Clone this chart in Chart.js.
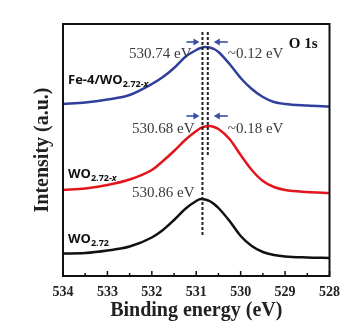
<!DOCTYPE html>
<html>
<head>
<meta charset="utf-8">
<script src="https://cdn.jsdelivr.net/npm/chart.js@4"></script>
<style>
    html, body { margin: 0; padding: 0; background: #fff; }
    canvas { display: block; }
</style>
</head>
<body>
<canvas id="xps-chart" width="348" height="329"></canvas>
<script>
const energies = [534, 533.5, 533, 532.5, 532, 531.75, 531.5, 531.25, 531, 530.9, 530.8, 530.7, 530.6, 530.5, 530.25, 530, 529.75, 529.5, 529.25, 529, 528.5, 528];

// Stacked O 1s spectra (arbitrary units, offset as in the figure)
const fe4Wo272x = [172, 173.5, 176.5, 181, 192, 199, 208, 219, 226, 228, 229, 228.5, 227, 224, 212, 198, 187, 179, 174, 172, 170.5, 169.5];
const wo272x = [86, 87.5, 91, 96.5, 106, 115, 125, 136, 145, 148, 149.5, 150, 149, 147, 137, 121, 106, 95, 89, 86, 84, 83];
const wo272 = [22.5, 23, 25.5, 29.5, 38.5, 46, 56, 67, 75, 77, 76.5, 75, 72, 68, 55, 40, 30, 24, 21, 19.5, 18.5, 18];

const xTicks = [534, 533, 532, 531, 530, 529, 528];
const minorTicks = [533.5, 532.5, 531.5, 530.5, 529.5, 528.5];

// Peak positions marked by the dashed lines
const peakWO272 = 530.86;
const peakShifted = 530.74;

const serif = '"Liberation Serif", "Times New Roman", serif';
const sans = '"Open Sans", "Liberation Sans", Arial, sans-serif';

function toPoints(values) {
    return energies.map((e, i) => ({ x: e, y: values[i] }));
}

function drawArrow(ctx, fromX, toX, y, color) {
    const dir = Math.sign(toX - fromX);
    ctx.save();
    ctx.strokeStyle = color;
    ctx.fillStyle = color;
    ctx.lineWidth = 1.6;
    ctx.beginPath();
    ctx.moveTo(fromX, y);
    ctx.lineTo(toX - dir * 4, y);
    ctx.stroke();
    ctx.beginPath();
    ctx.moveTo(toX, y);
    ctx.lineTo(toX - dir * 6, y - 3.5);
    ctx.lineTo(toX - dir * 6, y + 3.5);
    ctx.closePath();
    ctx.fill();
    ctx.restore();
}

// label like WO2.72-x with a subscript
function drawFormula(ctx, x, y, main, sub, italicTail) {
    ctx.save();
    ctx.fillStyle = '#111';
    ctx.textBaseline = 'alphabetic';
    ctx.textAlign = 'left';
    ctx.font = 'bold 13px ' + sans;
    ctx.fillText(main, x, y);
    let cx = x + ctx.measureText(main).width;
    ctx.font = 'bold 9px ' + sans;
    ctx.fillText(sub, cx, y + 3);
    cx += ctx.measureText(sub).width;
    if (italicTail) {
        ctx.font = 'italic bold 9px ' + sans;
        ctx.fillText(italicTail, cx, y + 3);
    }
    ctx.restore();
}

const decorations = {
    id: 'decorations',
    afterDatasetsDraw(chart) {
        const { ctx, chartArea: a, scales: { x, y } } = chart;

        // frame
        ctx.save();
        ctx.strokeStyle = '#111';
        ctx.lineWidth = 2;
        ctx.strokeRect(a.left, a.top, a.right - a.left, a.bottom - a.top);

        // inward ticks on the bottom axis
        ctx.lineWidth = 1.5;
        ctx.beginPath();
        xTicks.forEach(v => {
            const px = x.getPixelForValue(v);
            ctx.moveTo(px, a.bottom);
            ctx.lineTo(px, a.bottom - 5);
        });
        minorTicks.forEach(v => {
            const px = x.getPixelForValue(v);
            ctx.moveTo(px, a.bottom);
            ctx.lineTo(px, a.bottom - 3);
        });
        ctx.stroke();

        // dashed peak markers
        const lx = x.getPixelForValue(peakWO272);
        const rx = x.getPixelForValue(peakShifted);
        ctx.strokeStyle = '#222';
        ctx.lineWidth = 2;
        ctx.setLineDash([3, 2]);
        ctx.beginPath();
        ctx.moveTo(lx, y.getPixelForValue(244));
        ctx.lineTo(lx, y.getPixelForValue(39));
        ctx.moveTo(rx, y.getPixelForValue(244));
        ctx.lineTo(rx, y.getPixelForValue(121));
        ctx.stroke();
        ctx.setLineDash([]);
        ctx.restore();

        // shift arrows
        const arrowColor = '#3b4ea3';
        [234, 160].forEach(v => {
            const py = y.getPixelForValue(v);
            drawArrow(ctx, lx - 16, lx - 3, py, arrowColor);
            drawArrow(ctx, rx + 20, rx + 6, py, arrowColor);
        });

        // peak annotations
        ctx.save();
        ctx.fillStyle = '#3a3a3a';
        ctx.textBaseline = 'middle';
        ctx.font = '15px ' + serif;
        ctx.textAlign = 'right';
        ctx.fillText('530.74 eV', lx - 11, y.getPixelForValue(222));
        ctx.fillText('530.68 eV', lx - 8, y.getPixelForValue(147));
        ctx.fillText('530.86 eV', lx - 8, y.getPixelForValue(83));
        ctx.textAlign = 'left';
        ctx.fillText('~0.12 eV', rx + 20, y.getPixelForValue(222));
        ctx.fillText('~0.18 eV', rx + 20, y.getPixelForValue(147));

        ctx.fillStyle = '#111';
        ctx.font = 'bold 15px ' + serif;
        ctx.textAlign = 'right';
        ctx.fillText('O 1s', a.right - 12, y.getPixelForValue(232));
        ctx.restore();

        // sample labels
        const labelX = a.left + 5;
        drawFormula(ctx, labelX, y.getPixelForValue(192), 'Fe-4/WO', '2.72-', 'x');
        drawFormula(ctx, labelX, y.getPixelForValue(98), 'WO', '2.72-', 'x');
        drawFormula(ctx, labelX, y.getPixelForValue(33), 'WO', '2.72', '');
    }
};

const lineStyle = {
    borderWidth: 2.5,
    pointRadius: 0,
    fill: false,
    cubicInterpolationMode: 'monotone'
};

new Chart(document.getElementById('xps-chart'), {
    type: 'line',
    data: {
        datasets: [
            { label: 'Fe-4/WO2.72-x', data: toPoints(fe4Wo272x), borderColor: '#2f3f9c', ...lineStyle },
            { label: 'WO2.72-x', data: toPoints(wo272x), borderColor: '#e3151c', ...lineStyle },
            { label: 'WO2.72', data: toPoints(wo272), borderColor: '#111111', ...lineStyle }
        ]
    },
    options: {
        responsive: false,
        animation: false,
        layout: {
            padding: { top: 24, right: 18, left: 33, bottom: 0 }
        },
        plugins: {
            legend: { display: false },
            tooltip: { enabled: false }
        },
        scales: {
            x: {
                type: 'linear',
                reverse: true,
                min: 528,
                max: 534,
                afterBuildTicks: scale => {
                    scale.ticks = xTicks.map(v => ({ value: v }));
                },
                afterFit: scale => { scale.height = 53; },
                grid: { display: false, drawTicks: false },
                border: { display: false },
                ticks: {
                    color: '#222',
                    padding: 8,
                    maxRotation: 0,
                    font: { family: serif, size: 14, weight: 'bold', lineHeight: 1.2 }
                },
                title: {
                    display: true,
                    text: 'Binding energy (eV)',
                    color: '#222',
                    padding: { top: 0, bottom: 8 },
                    font: { family: serif, size: 20, weight: 'bold', lineHeight: 1 }
                }
            },
            y: {
                min: 0,
                max: 252,
                afterFit: scale => { scale.width = 30; },
                grid: { display: false, drawTicks: false },
                border: { display: false },
                ticks: { display: false },
                title: {
                    display: true,
                    text: 'Intensity (a.u.)',
                    color: '#222',
                    padding: { top: 0, bottom: 10 },
                    font: { family: serif, size: 20, weight: 'bold', lineHeight: 1 }
                }
            }
        }
    },
    plugins: [decorations]
});
</script>
</body>
</html>
